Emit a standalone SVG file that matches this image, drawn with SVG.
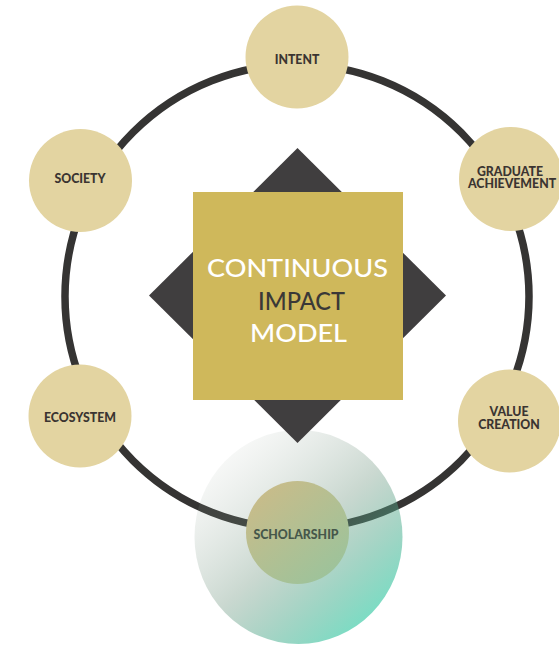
<svg xmlns="http://www.w3.org/2000/svg" width="559" height="645" viewBox="0 0 559 645">
  <defs>
    <linearGradient id="halo" x1="0.15" y1="0.1" x2="0.85" y2="0.92">
      <stop offset="0" stop-color="#9aa69a" stop-opacity="0.07"/>
      <stop offset="0.5" stop-color="#5f8a72" stop-opacity="0.33"/>
      <stop offset="1" stop-color="#3fd2ae" stop-opacity="0.72"/>
    </linearGradient>
    <linearGradient id="inner" x1="0.15" y1="0.1" x2="0.85" y2="0.92">
      <stop offset="0" stop-color="#c8bc8a"/>
      <stop offset="1" stop-color="#9cc39b"/>
    </linearGradient>
    <style>
      .ring { fill: none; stroke: #353433; stroke-width: 7.5; }
      .node { fill: #e3d4a1; }
      .lbl { font-family: Lato, "Open Sans", sans-serif; font-weight: 900; font-size: 12.3px; fill: #3b3431; text-anchor: middle; }
      .big { font-family: Lato, "Open Sans", sans-serif; font-weight: 500; font-size: 25.5px; text-anchor: middle; }
    </style>
  </defs>
  <rect width="559" height="645" fill="#ffffff"/>

  <g id="connectors">
    <circle class="ring" cx="297" cy="296.5" r="232"/>
  </g>

  <g id="intent">
    <circle class="node" cx="297" cy="57" r="51.5"/>
    <text class="lbl" x="297" y="64">INTENT</text>
  </g>
  <g id="graduate-achievement">
    <circle class="node" cx="511" cy="179" r="52"/>
    <text class="lbl" x="510" y="175.5">GRADUATE</text>
    <text class="lbl" x="512" y="188">ACHIEVEMENT</text>
  </g>
  <g id="value-creation">
    <circle class="node" cx="509.5" cy="421" r="51.5"/>
    <text class="lbl" x="509" y="416">VALUE</text>
    <text class="lbl" x="509" y="428.5">CREATION</text>
  </g>
  <g id="society">
    <circle class="node" cx="80.5" cy="180.5" r="51.5"/>
    <text class="lbl" x="80" y="182.5">SOCIETY</text>
  </g>
  <g id="ecosystem">
    <circle class="node" cx="80" cy="416" r="51.5"/>
    <text class="lbl" x="80" y="421.5">ECOSYSTEM</text>
  </g>
  <g id="scholarship">
    <ellipse cx="298.5" cy="537" rx="104" ry="107" fill="url(#halo)"/>
    <circle cx="297.5" cy="532.5" r="51.5" fill="url(#inner)"/>
    <text class="lbl" x="296" y="538.5" style="fill:#46574a">SCHOLARSHIP</text>
  </g>

  <g id="continuous-impact-model">
    <polygon points="297.5,148 446,295.5 297.5,443 149,295.5" fill="#403e3f"/>
    <rect x="193" y="192" width="210" height="208" fill="#cfb85b"/>
    <text class="big" x="297.5" y="277" fill="#ffffff" textLength="181" lengthAdjust="spacingAndGlyphs">CONTINUOUS</text>
    <text class="big" x="301.5" y="310" fill="#3a3837" textLength="87" lengthAdjust="spacingAndGlyphs">IMPACT</text>
    <text class="big" x="298.5" y="342" fill="#ffffff" textLength="97" lengthAdjust="spacingAndGlyphs">MODEL</text>
  </g>
</svg>
